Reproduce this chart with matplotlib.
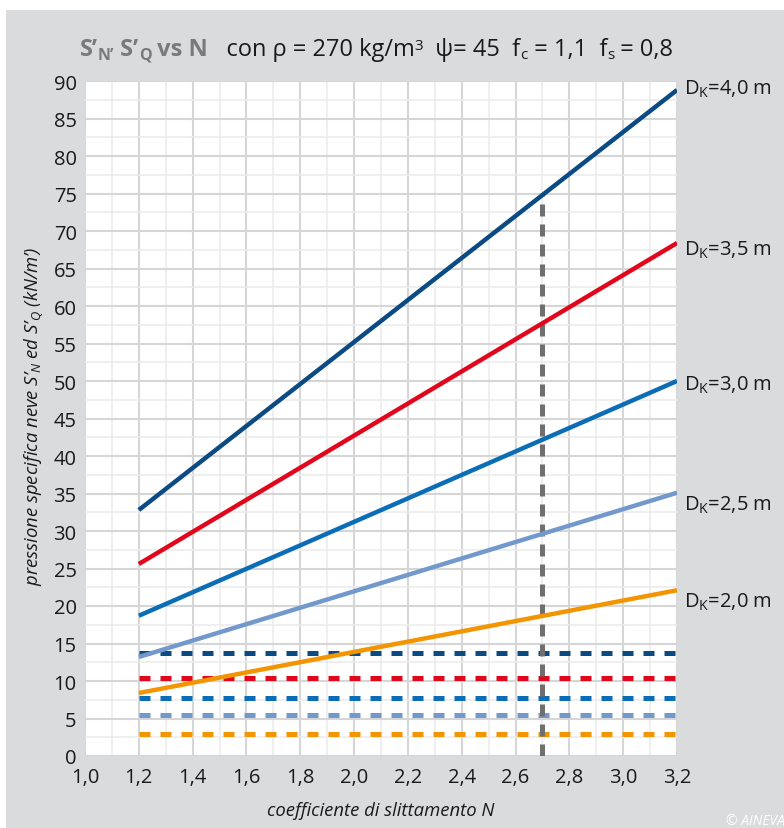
import matplotlib
matplotlib.use("Agg")
import matplotlib.pyplot as plt
import numpy as np

plt.rcParams['font.family'] = ['Open Sans', 'DejaVu Sans']
plt.rcParams['mathtext.fontset'] = 'custom'
plt.rcParams['mathtext.rm'] = 'Open Sans'
plt.rcParams['mathtext.it'] = 'Open Sans:italic'
plt.rcParams['mathtext.bf'] = 'Open Sans:bold'

# dati
n_vals = [1.2, 3.2]
dk_labels = ['4,0', '3,5', '3,0', '2,5', '2,0']
s_n = [[32.8, 88.8], [25.6, 68.4], [18.7, 50.0], [13.2, 35.1], [8.4, 22.1]]
s_q = [13.8, 10.4, 7.8, 5.5, 3.0]
label_y = [89.0, 67.6, 49.6, 33.6, 20.6]
colori = ['#0b4a82', '#e2061c', '#0a6db6', '#7399cc', '#f39500']
n_rif = 2.7
s_rif = 74.8

x_ticks = [1.0, 1.2, 1.4, 1.6, 1.8, 2.0, 2.2, 2.4, 2.6, 2.8, 3.0, 3.2]
y_ticks = list(range(0, 95, 5))

fig = plt.figure(figsize=(7.84, 8.29), dpi=100)
fig.patch.set_facecolor('white')
# sfondo grigio
fig.patches.append(plt.Rectangle((6/784, 0), 1, 1 - 11/829, transform=fig.transFigure,
                                 facecolor='#dadbdd', edgecolor='none', zorder=-1))

ax = fig.add_axes([85/784, 1 - 757/829, (677-85)/784, (757-82)/829])
ax.set_facecolor('white')
for s in ax.spines.values():
    s.set_visible(False)

ax.set_xlim(1.0, 3.2)
ax.set_ylim(0, 90)
ax.set_xticks(x_ticks)
ax.set_xticklabels([f'{v:.1f}'.replace('.', ',') for v in x_ticks])
ax.set_yticks(y_ticks)
ax.set_xticks(np.arange(1.1, 3.2, 0.2), minor=True)
ax.set_yticks(np.arange(2.5, 90, 5), minor=True)
ax.tick_params(which='both', length=0, labelsize=14.5, colors='#1a1a1a')
ax.tick_params(axis='x', pad=8)
ax.tick_params(axis='y', pad=6)
ax.grid(which='major', color='#d6d6d6', lw=1.5)
ax.grid(which='minor', color='#ececec', lw=1.2)
ax.set_axisbelow(True)

for i in range(len(s_n)):
    ax.plot(n_vals, [s_q[i], s_q[i]], color=colori[i], lw=3.6,
            dashes=(2.2, 2.0), solid_capstyle='butt', zorder=3)

ax.plot([n_rif, n_rif], [0, s_rif], color='#6f6f6f', lw=3.6,
        dashes=(2.4, 1.6), zorder=4)

for i in range(len(s_n)):
    ax.plot(n_vals, s_n[i], color=colori[i], lw=3.2, solid_capstyle='butt', zorder=5)
    ax.text(1.011, label_y[i], r'D$_\mathrm{K}$=' + dk_labels[i] + ' m',
            transform=ax.get_yaxis_transform(),
            fontsize=14.5, color='#1a1a1a', va='center', ha='left', clip_on=False)

# titolo composto a pezzi
fig.canvas.draw()
r = fig.canvas.get_renderer()
base_y = 1 - 56/829
grigio = '#7a7a7a'
nero = '#1a1a1a'
pezzi = [('S’', 17, 0, grigio, 'bold'), ('N’', 11.5, -4, grigio, 'bold'),
         (' S’', 17, 0, grigio, 'bold'), ('Q', 11.5, -4, grigio, 'bold'),
         (' vs N', 17, 0, grigio, 'bold'),
         ('   con ρ = 270 kg/m', 17, 0, nero, 'normal'), ('3', 11, 6, nero, 'normal'),
         ('  ψ= 45  f', 17, 0, nero, 'normal'), ('c', 11, -3, nero, 'normal'),
         (' = 1,1  f', 17, 0, nero, 'normal'), ('s', 11, -3, nero, 'normal'),
         (' = 0,8', 17, 0, nero, 'normal')]
x = 80
for testo, fs, dy, col, w in pezzi:
    t = fig.text(x/784, base_y + dy/829, testo, fontsize=fs, color=col, weight=w,
                 va='baseline', ha='left')
    bb = t.get_window_extent(renderer=r)
    x += bb.width

ax.set_xlabel('coefficiente di slittamento N', fontsize=13.3, style='italic',
              color='#1a1a1a', labelpad=10)
ax.set_ylabel(r"pressione specifica neve S’$_N$ ed S’$_Q$ (kN/m’)", fontsize=13.3,
              style='italic', color='#1a1a1a', labelpad=8)
ax.yaxis.set_label_coords(-40/592, 0.505)

fig.text(726/784, 1 - 822/829, '© AINEVA', fontsize=10, style='italic',
         color='white', va='center', ha='left')

fig.savefig('out.png', dpi=100)
